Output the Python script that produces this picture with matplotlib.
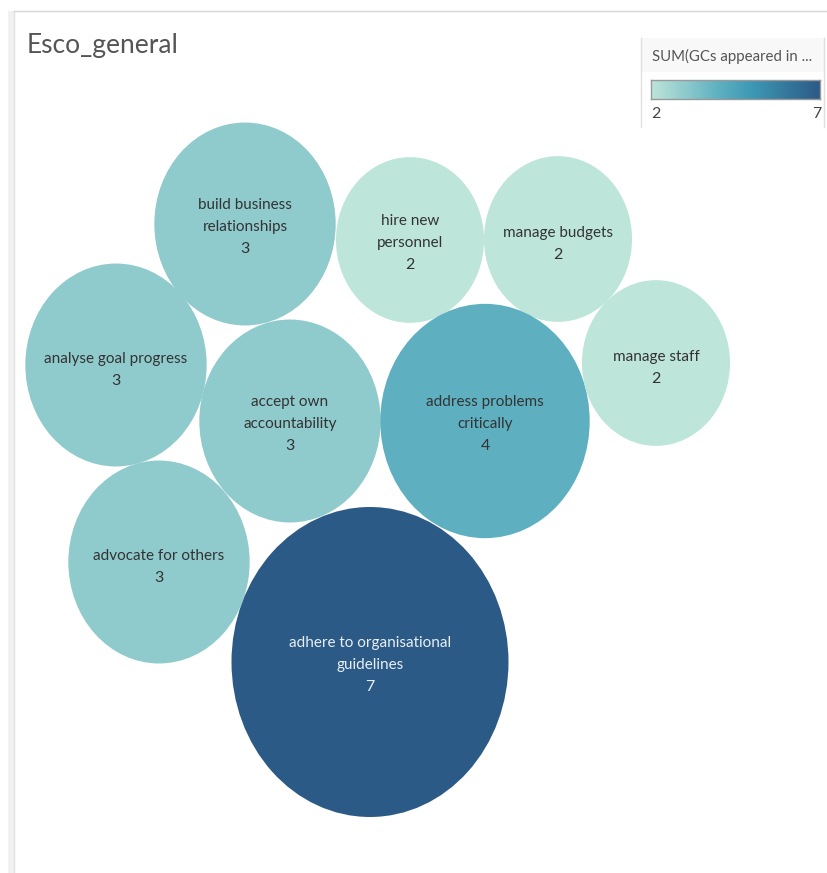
import numpy as np
import matplotlib
matplotlib.use("Agg")
from matplotlib import pyplot as plt
from matplotlib.patches import Ellipse, Rectangle
from matplotlib.colors import LinearSegmentedColormap

# data
labels = ["build business\nrelationships", "hire new\npersonnel", "manage budgets",
          "analyse goal progress", "accept own\naccountability", "address problems\ncritically",
          "manage staff", "advocate for others", "adhere to organisational\nguidelines"]
values = [3, 2, 2, 3, 3, 4, 2, 3, 7]

# layout of the packed bubbles (pixel centres)
cx = [245, 410, 558, 116, 290, 485, 656, 159, 370]
cy = [224, 240, 239, 365, 421, 421, 363, 562, 662]

cmap = LinearSegmentedColormap.from_list("blueteal",
        [(0.0, "#bde5da"), (0.2, "#8fcacd"), (0.4, "#5eb0c1"), (0.6, "#3d98b4"), (1.0, "#2c5a86")])
vmin, vmax = 2, 7

plt.rcParams['font.family'] = ['Lato', 'DejaVu Sans']
fig = plt.figure(figsize=(8.28, 8.73), dpi=100)
ax = fig.add_axes([0, 0, 1, 1])
ax.set_xlim(0, 828); ax.set_ylim(873, 0)
ax.axis('off')

# frame
ax.add_patch(Rectangle((8, 11), 6, 862, color="#f1f1f1", lw=0))
ax.plot([14, 14], [11, 873], color="#e2e2e2", lw=1)
ax.plot([14, 828], [11, 11], color="#d6d6d6", lw=1)
ax.text(27, 46, "Esco_general", fontsize=19, color="#555555", va="center", ha="left")

# bubbles, size from value
big_w, big_h = 277, 310
lh = 22  # line height px
for lab, v, x, y in zip(labels, values, cx, cy):
    s = np.sqrt(v / vmax)
    col = cmap((v - vmin) / (vmax - vmin))
    ax.add_patch(Ellipse((x, y), big_w * s, big_h * s, color=col, lw=0))
    tc = "#e8eef4" if v >= 6 else "#333333"
    lines = lab.split("\n")
    top = y + 3 - lh * (len(lines) - 1) if len(lines) > 1 else y - 6
    for i, ln in enumerate(lines):
        ax.text(x, top + lh * i, ln, ha="center", va="center", fontsize=11, color=tc)
    ax.text(x, top + lh * len(lines), str(v), ha="center", va="center", fontsize=11.5, color=tc)

# legend
ax.add_patch(Rectangle((641, 38), 183, 34, color="#f8f8f8", lw=0))
ax.plot([641, 641], [38, 127], color="#e0e0e0", lw=1)
ax.plot([824, 824], [38, 127], color="#e0e0e0", lw=1)
ax.text(652, 56, "SUM(GCs appeared in ...", fontsize=10.8, color="#555555", va="center", ha="left")
cax = fig.add_axes([651 / 828, 1 - 99 / 873, 169 / 828, 19 / 873])
cax.imshow(np.linspace(0, 1, 256)[None, :], aspect="auto", cmap=cmap)
cax.set_xticks([]); cax.set_yticks([])
for sp in cax.spines.values():
    sp.set_color("#999999"); sp.set_linewidth(1)
ax.text(651, 114, str(vmin), fontsize=11.5, color="#444444", va="center", ha="left")
ax.text(821, 114, str(vmax), fontsize=11.5, color="#444444", va="center", ha="right")

fig.savefig("out.png", dpi=100)
